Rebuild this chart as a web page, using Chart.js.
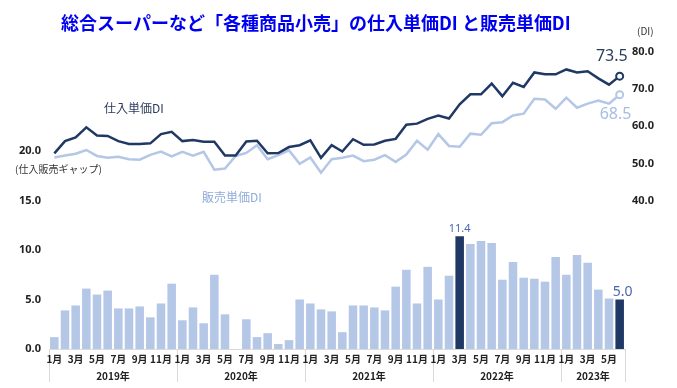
<!DOCTYPE html>
<html>
<head>
<meta charset="utf-8">
<script src="https://cdn.jsdelivr.net/npm/chart.js@4.4.1/dist/chart.umd.min.js"></script>
<style>
  html, body { margin: 0; padding: 0; background: #fff; }
  #wrap { width: 677px; height: 388px; }
</style>
</head>
<body>
<div id="wrap"><canvas id="chart"></canvas></div>
<script>
/* --------------- Data --------------------- */
const monthLabels = [
  "1月", "2月", "3月", "4月", "5月", "6月", "7月", "8月", "9月", "10月", "11月", "12月",
  "1月", "2月", "3月", "4月", "5月", "6月", "7月", "8月", "9月", "10月", "11月", "12月",
  "1月", "2月", "3月", "4月", "5月", "6月", "7月", "8月", "9月", "10月", "11月", "12月",
  "1月", "2月", "3月", "4月", "5月", "6月", "7月", "8月", "9月", "10月", "11月", "12月",
  "1月", "2月", "3月", "4月", "5月", "6月",
];
const yearLabels = ["2019年", "2020年", "2021年", "2022年", "2023年"];
const yearMonths = [12, 12, 12, 12, 6];

// 仕入販売ギャップ (left axis)
const gapDI = [
  1.2, 3.9, 4.4, 6.1, 5.5, 5.9, 4.1, 4.1, 4.3, 3.2, 4.6, 6.6,
  2.9, 4.2, 2.6, 7.5, 3.5, 0.0, 3.0, 1.2, 1.6, 0.5, 0.9, 5.0,
  4.6, 4.0, 3.8, 1.7, 4.4, 4.4, 4.2, 3.9, 6.3, 8.0, 4.6, 8.3,
  5.0, 7.4, 11.4, 10.6, 10.9, 10.7, 7.0, 8.8, 7.2, 7.1, 6.8, 9.3,
  7.5, 9.5, 8.7, 6.0, 5.1, 5.0,
];
// 仕入単価DI (right axis)
const purchaseDI = [
  52.7, 56.0, 57.0, 59.7, 57.5, 57.4, 56.0, 55.2, 55.2, 55.4, 57.9, 58.5,
  56.0, 56.3, 55.8, 55.8, 52.1, 52.1, 55.9, 56.1, 52.7, 52.8, 54.4, 54.9,
  56.2, 51.5, 54.9, 53.2, 56.5, 55.0, 55.1, 56.1, 56.6, 60.4, 60.7, 62.0,
  62.9, 62.1, 65.9, 68.6, 68.6, 71.5, 68.1, 71.7, 70.6, 74.5, 74.0, 74.0,
  75.3, 74.5, 74.8, 72.9, 71.2, 73.5,
];
// 販売単価DI (right axis)
const salesDI = [
  51.6, 52.1, 52.6, 53.6, 52.0, 51.5, 51.8, 51.1, 51.0, 52.3, 53.2, 51.9,
  53.1, 52.1, 53.1, 48.3, 48.6, 52.0, 52.8, 54.9, 51.1, 52.2, 53.5, 49.9,
  51.6, 47.5, 51.1, 51.5, 52.1, 50.6, 51.0, 52.2, 50.4, 52.4, 56.1, 53.7,
  57.9, 54.7, 54.5, 58.0, 57.7, 60.8, 61.1, 62.9, 63.4, 67.4, 67.2, 64.7,
  67.7, 65.0, 66.1, 66.9, 66.1, 68.5,
];
const highlightBars = [38, 53];

const leftTicks = [0, 5, 10, 15, 20];
const rightTicks = [40, 50, 60, 70, 80];

/* --------------- Colors --------------------- */
const navy = "#1f3864";
const lightBlue = "#b4c7e7";
const last = monthLabels.length - 1;

/* --------------- Year separators (under the tick labels) --------------------- */
const yearLines = {
  id: "yearLines",
  beforeDraw(chart) {
    const ctx = chart.ctx;
    const xs = chart.scales.x;
    const step = xs.getPixelForValue(1) - xs.getPixelForValue(0);
    const base = chart.chartArea.bottom;
    ctx.save();
    ctx.strokeStyle = "#d9d9d9";
    ctx.lineWidth = 1;
    let start = 0;
    const edges = [];
    yearMonths.forEach((n) => {
      edges.push(xs.getPixelForValue(start) - step / 2);
      start += n;
    });
    edges.push(xs.getPixelForValue(start - 1) + step / 2);
    edges.forEach((x) => {
      ctx.beginPath();
      ctx.moveTo(Math.round(x) + 0.5, base);
      ctx.lineTo(Math.round(x) + 0.5, base + 33);
      ctx.stroke();
    });
    ctx.restore();
  },
};

/* --------------- Extra text plugin --------------------- */
const decorations = {
  id: "decorations",
  afterDraw(chart) {
    const ctx = chart.ctx;
    const xs = chart.scales.x;
    const y = chart.scales.y;
    const y1 = chart.scales.y1;
    const step = xs.getPixelForValue(1) - xs.getPixelForValue(0);
    ctx.save();

    // title
    ctx.fillStyle = "#0000f0";
    ctx.font = "bold 18px 'Noto Sans CJK JP'";
    ctx.textAlign = "left";
    ctx.textBaseline = "middle";
    ctx.fillText("総合スーパーなど「各種商品小売」の仕入単価DI と販売単価DI", 61, 23);

    ctx.fillStyle = "#333";
    ctx.font = "10px 'Noto Sans CJK JP'";
    ctx.fillText("(DI)", 637, 31);
    ctx.fillText("(仕入販売ギャップ)", 15, 169);

    // series names
    ctx.font = "12px 'Noto Sans CJK JP'";
    ctx.fillStyle = "#2c3a5c";
    ctx.fillText("仕入単価DI", 104, 108);
    ctx.fillStyle = "#8faadc";
    ctx.fillText("販売単価DI", 202, 197);

    // last values of lines
    const lx = xs.getPixelForValue(last);
    ctx.font = "16px 'Noto Sans'";
    ctx.textAlign = "right";
    ctx.textBaseline = "alphabetic";
    ctx.fillStyle = "#2c3a5c";
    ctx.fillText(purchaseDI[last].toFixed(1), lx + 8, y1.getPixelForValue(purchaseDI[last]) - 15);
    ctx.fillStyle = "#a7bde4";
    ctx.textAlign = "left";
    ctx.fillText(salesDI[last].toFixed(1), lx - 20, y1.getPixelForValue(salesDI[last]) + 24);

    // highlighted bar values
    ctx.textAlign = "center";
    highlightBars.forEach((i, k) => {
      ctx.font = k === 0 ? "11px 'Noto Sans'" : "14px 'Noto Sans'";
      ctx.fillStyle = "#4a66b0";
      ctx.fillText(gapDI[i].toFixed(1), xs.getPixelForValue(i) + (k ? 3 : 0), y.getPixelForValue(gapDI[i]) - 4);
    });

    // year labels
    const base = chart.chartArea.bottom;
    ctx.font = "bold 10px 'Noto Sans CJK JP'";
    ctx.fillStyle = "#222";
    ctx.textBaseline = "middle";
    let start = 0;
    yearMonths.forEach((n, k) => {
      const x0 = xs.getPixelForValue(start) - step / 2;
      const x1 = xs.getPixelForValue(start + n - 1) + step / 2;
      ctx.fillText(yearLabels[k], (x0 + x1) / 2, base + 27);
      start += n;
    });
    ctx.restore();
  },
};

/* --------------- Chart --------------------- */
new Chart(document.getElementById("chart"), {
  data: {
    labels: monthLabels,
    datasets: [
      {
        type: "line",
        label: "仕入単価DI",
        data: purchaseDI,
        yAxisID: "y1",
        borderColor: navy,
        borderWidth: 2.5,
        tension: 0,
        pointRadius: (c) => (c.dataIndex === last ? 3.5 : 0),
        pointBorderWidth: 2,
        pointBackgroundColor: "#fff",
        pointBorderColor: navy,
        order: 1,
      },
      {
        type: "line",
        label: "販売単価DI",
        data: salesDI,
        yAxisID: "y1",
        borderColor: lightBlue,
        borderWidth: 2.5,
        tension: 0,
        pointRadius: (c) => (c.dataIndex === last ? 3.5 : 0),
        pointBorderWidth: 2,
        pointBackgroundColor: "#fff",
        pointBorderColor: lightBlue,
        order: 2,
      },
      {
        type: "bar",
        label: "仕入販売ギャップ",
        data: gapDI,
        yAxisID: "y",
        backgroundColor: (c) => (highlightBars.includes(c.dataIndex) ? navy : lightBlue),
        barPercentage: 0.8,
        categoryPercentage: 1,
        order: 3,
      },
    ],
  },
  options: {
    responsive: true,
    maintainAspectRatio: false,
    animation: false,
    layout: { padding: { top: 52, left: 14, right: 0, bottom: 0 } },
    plugins: {
      legend: { display: false },
      tooltip: { enabled: false },
    },
    scales: {
      x: {
        grid: { display: false, drawTicks: false },
        border: { color: "#d9d9d9" },
        ticks: {
          autoSkip: false,
          maxRotation: 0,
          padding: 4,
          color: "#222",
          font: { size: 10, weight: "bold", family: "'Noto Sans CJK JP'" },
          callback: (v, i) => (i % 2 === 0 ? monthLabels[i] : ""),
        },
        afterFit: (s) => { s.height = 39; },
      },
      y: {
        position: "left",
        min: 0,
        max: 30,
        grid: { display: false, drawTicks: false },
        border: { display: false },
        afterBuildTicks: (s) => { s.ticks = leftTicks.map((v) => ({ value: v })); },
        ticks: {
          padding: 8,
          color: "#222",
          font: { size: 11, weight: "bold", family: "'Noto Sans'" },
          callback: (v) => v.toFixed(1),
        },
        afterFit: (s) => { s.width = 35; },
      },
      y1: {
        position: "right",
        min: 0,
        max: 80,
        grid: { display: false, drawTicks: false },
        border: { display: false },
        afterBuildTicks: (s) => { s.ticks = rightTicks.map((v) => ({ value: v })); },
        ticks: {
          padding: 7,
          color: "#222",
          font: { size: 11, weight: "bold", family: "'Noto Sans'" },
          callback: (v) => v.toFixed(1),
        },
        afterFit: (s) => { s.width = 52; },
      },
    },
  },
  plugins: [yearLines, decorations],
});
</script>
</body>
</html>
